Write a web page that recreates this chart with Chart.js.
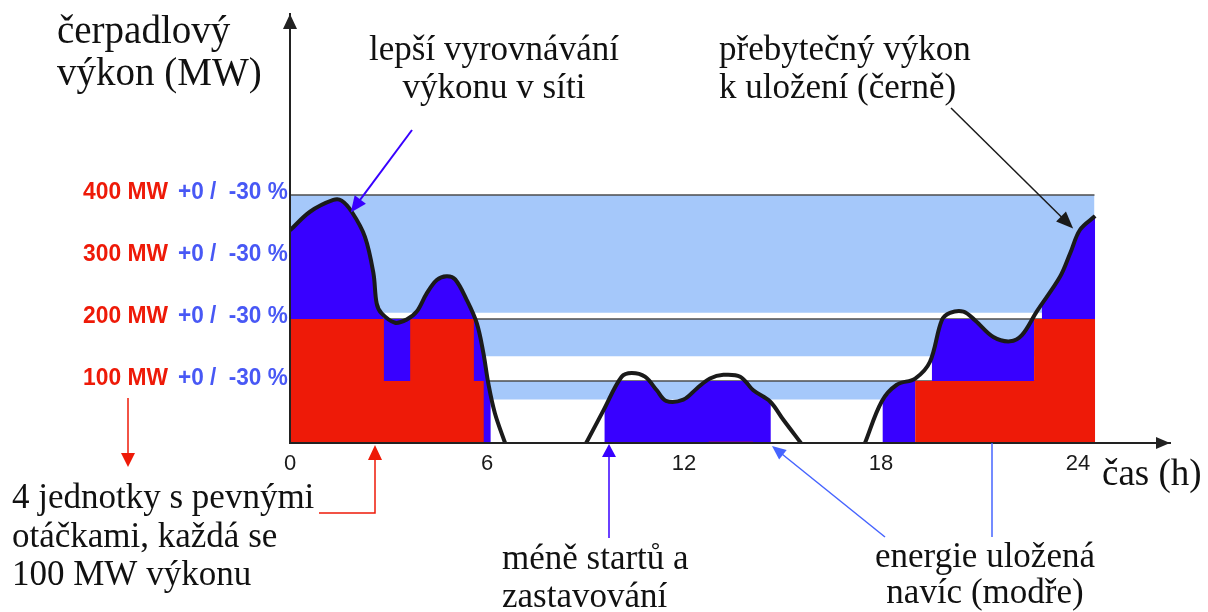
<!DOCTYPE html>
<html lang="cs">
<head>
  <meta charset="UTF-8" />
  <title>Čerpadlový výkon během dne</title>
  <script src="https://cdn.jsdelivr.net/npm/chart.js"></script>
  <style>
    html, body { margin: 0; padding: 0; background: #fff; }
    #wrap { width: 1208px; height: 612px; }
  </style>
</head>
<body>

  <div id="wrap">
    <canvas id="pumpChart" width="1208" height="612"></canvas>
  </div>

  <script>
    // čerpadlový výkon přes den (h, MW); null = čerpání stojí
    const curveHours = [0, 0.61, 1.32, 1.57, 1.88, 2.28, 2.54, 2.64, 2.79, 3.2, 3.55, 3.86, 4.16, 4.47, 4.77, 5.03, 5.38, 5.69, 5.89, 6.04, 6.24, 6.55,
      7.8,
      9.02, 9.55, 10.1, 10.41, 10.81, 11.17, 11.45, 11.98, 12.39, 12.79, 13.2, 13.71, 14.11, 14.62, 15.03, 15.56,
      16.5,
      17.51, 18.02, 18.48, 19.04, 19.49, 19.85, 20.1, 20.51, 20.86, 21.42, 21.93, 22.29, 22.74, 23.45, 23.76, 24.06, 24.52];
    const curveMW = [343, 373, 392, 391, 373, 333, 274, 225, 209, 194, 199, 212, 241, 263, 269, 264, 231, 193, 145, 96, 48, 0,
      null,
      0, 53, 107, 113, 107, 85, 68, 70, 88, 104, 110, 107, 85, 67, 37, 0,
      null,
      0, 67, 94, 104, 131, 198, 210, 212, 198, 171, 164, 174, 212, 268, 306, 344, 366];

    // energie uložená navíc (modře)
    const blueHours = [0, 0.61, 1.32, 1.57, 1.88, 2.28, 2.54, 2.64, 2.79, 2.86, 3.66, 3.86, 4.16, 4.47, 4.77, 5.03, 5.38, 5.69, 5.89, 6.04, 6.11, 6.11,
      9.58, 9.58, 9.95, 10.95, 11.17, 11.45, 11.98, 12.39, 12.65, 13.95, 14.11, 14.64, 14.64,
      18.05, 18.05, 18.48, 19.04, 19.04,
      19.55, 19.55, 19.85, 19.95, 20.8, 20.86, 21.42, 21.93, 22.29, 22.66, 22.66,
      22.9, 22.9, 23.45, 23.76, 24.06, 24.52, 24.52];
    const blueMW = [343, 373, 392, 391, 373, 333, 274, 225, 209, 200, 200, 212, 241, 263, 269, 264, 231, 193, 145, 96, 85, 0,
      0, 56, 100, 100, 85, 68, 70, 88, 100, 100, 85, 66, 0,
      0, 67, 94, 104, 0,
      0, 140, 198, 200, 200, 198, 171, 164, 174, 200, 0,
      0, 225, 268, 306, 344, 366, 0];

    // jednotky s pevnými otáčkami po 100 MW (červeně)
    const redHours = [0, 2.86, 2.86, 3.66, 3.66, 5.6, 5.6, 5.9, 5.9, 12.75, 12.75, 14.1, 14.1, 19.04, 19.04, 22.66, 22.66, 24.52, 24.52];
    const redMW = [200, 200, 100, 100, 200, 200, 100, 100, 0, 0, 2, 2, 0, 0, 100, 100, 200, 200, 0];

    // pásma výkonu +0 / -30 %
    const levels = [400, 300, 200, 100];
    const levelLabels = ['400 MW', '300 MW', '200 MW', '100 MW'];
    const levelTolerance = '+0 /  -30 %';
    const bandTop = [400, 300, 200, 100];
    const bandBottom = [280, 210, 140, 70];
    const bandEnd = 24.5;

    const hourTicks = [0, 6, 12, 18, 24];

    const LIGHT = 'rgb(165, 200, 250)';
    const BLUE = 'rgb(56, 0, 255)';
    const RED = 'rgb(238, 26, 8)';
    const SERIF = '"Liberation Serif", "DejaVu Serif", serif';
    const SANS = '"Liberation Sans", Arial, sans-serif';

    const pts = (xs, ys) => xs.map((x, i) => ({ x, y: ys[i] }));

    const bandSets = bandTop.map((top, i) => ({
      data: [{ x: 0, y: top }, { x: bandEnd, y: top }],
      fill: { value: bandBottom[i] },
      backgroundColor: LIGHT,
      borderColor: '#4d4d4d',
      borderWidth: 1.5,
      pointRadius: 0,
      order: 3 + i
    }));

    function arrowHead(ctx, x1, y1, x2, y2, len, half, color) {
      const a = Math.atan2(y2 - y1, x2 - x1);
      const bx = x2 - len * Math.cos(a), by = y2 - len * Math.sin(a);
      ctx.fillStyle = color;
      ctx.beginPath();
      ctx.moveTo(x2, y2);
      ctx.lineTo(bx + half * Math.sin(a), by - half * Math.cos(a));
      ctx.lineTo(bx - half * Math.sin(a), by + half * Math.cos(a));
      ctx.closePath();
      ctx.fill();
    }

    // lomená čára, na konci šipka (len = 0 bez šipky)
    function arrow(ctx, path, color, width, len, half) {
      const n = path.length;
      const [x1, y1] = path[n - 2], [x2, y2] = path[n - 1];
      const a = Math.atan2(y2 - y1, x2 - x1);
      ctx.save();
      ctx.strokeStyle = color;
      ctx.lineWidth = width;
      ctx.beginPath();
      ctx.moveTo(path[0][0], path[0][1]);
      for (let i = 1; i < n - 1; i++) ctx.lineTo(path[i][0], path[i][1]);
      ctx.lineTo(x2 - len * 0.8 * Math.cos(a), y2 - len * 0.8 * Math.sin(a));
      ctx.stroke();
      if (len) arrowHead(ctx, x1, y1, x2, y2, len, half, color);
      ctx.restore();
    }

    function lines(ctx, texts, x, y0, step, font, align) {
      ctx.font = font;
      ctx.textAlign = align;
      ctx.textBaseline = 'alphabetic';
      texts.forEach((t, i) => ctx.fillText(t, x, y0 + i * step));
    }

    // úzký tučný text (x = levý/pravý okraj podle zarovnání)
    function narrowText(ctx, text, x, y, align, sx) {
      ctx.save();
      ctx.translate(x, y);
      ctx.scale(sx, 1);
      ctx.textAlign = align;
      ctx.fillText(text, 0, 0);
      ctx.restore();
    }

    const annotations = {
      id: 'annotations',
      afterDraw(chart) {
        const { ctx, chartArea, scales: { x, y } } = chart;
        const x0 = chartArea.left, yb = chartArea.bottom;
        ctx.save();

        // šipky os
        arrowHead(ctx, x0, yb, x0, chartArea.top, 15, 7, '#222');
        arrowHead(ctx, x0, yb, chartArea.right, yb, 14, 6, '#222');

        ctx.fillStyle = '#111';
        lines(ctx, ['čerpadlový', 'výkon (MW)'], 57, 43, 42, '39px ' + SERIF, 'left');
        lines(ctx, ['čas (h)'], 1102, 485, 0, '37px ' + SERIF, 'left');
        lines(ctx, ['lepší vyrovnávání', 'výkonu v síti'], 494, 60, 38, '35px ' + SERIF, 'center');
        lines(ctx, ['přebytečný výkon', 'k uložení (černě)'], 719, 60, 38, '35px ' + SERIF, 'left');
        lines(ctx, ['4 jednotky s pevnými', 'otáčkami, každá se', '100 MW výkonu'], 12, 508, 38.5, '35px ' + SERIF, 'left');
        lines(ctx, ['méně startů a', 'zastavování'], 502, 569, 38, '35px ' + SERIF, 'left');
        lines(ctx, ['energie uložená', 'navíc (modře)'], 985, 567, 36, '35px ' + SERIF, 'center');

        // popisky úrovní výkonu
        ctx.font = 'bold 24px ' + SANS;
        ctx.textBaseline = 'middle';
        levels.forEach((v, i) => {
          const py = y.getPixelForValue(v) - 3;
          ctx.fillStyle = RED;
          narrowText(ctx, levelLabels[i], 168, py, 'right', 0.95);
          ctx.fillStyle = 'rgb(72, 88, 245)';
          narrowText(ctx, levelTolerance, 178, py, 'left', 0.94);
        });

        // odkazy
        arrow(ctx, [[412, 130], [x.getPixelForValue(1.85), y.getPixelForValue(372)]], BLUE, 2, 16, 7);
        arrow(ctx, [[951, 108], [x.getPixelForValue(23.85), y.getPixelForValue(346)]], '#1a1a1a', 1.5, 17, 7);
        arrow(ctx, [[128, 398], [128, 467]], RED, 1.5, 14, 7);
        arrow(ctx, [[319, 513], [375, 513], [375, yb + 2]], RED, 1.5, 15, 7);
        arrow(ctx, [[609, 538], [609, yb + 1]], BLUE, 1.5, 13, 7);
        arrow(ctx, [[885, 537], [772, yb + 3]], 'rgb(70, 100, 255)', 1.5, 14, 6);
        arrow(ctx, [[992, yb], [992, 537]], 'rgb(70, 100, 255)', 1.5, 0, 0);

        ctx.restore();
      }
    };

    new Chart(document.getElementById('pumpChart'), {
      type: 'line',
      data: {
        datasets: [
          {
            data: pts(curveHours, curveMW),
            borderColor: '#1a1a1a',
            borderWidth: 4,
            tension: 0.35,
            spanGaps: false,
            fill: false,
            pointRadius: 0,
            order: 0
          },
          {
            data: pts(redHours, redMW),
            borderWidth: 0,
            backgroundColor: RED,
            fill: 'origin',
            pointRadius: 0,
            order: 1
          },
          {
            data: pts(blueHours, blueMW),
            borderWidth: 0,
            backgroundColor: BLUE,
            fill: 'origin',
            pointRadius: 0,
            order: 2
          },
          ...bandSets
        ]
      },
      options: {
        responsive: false,
        animation: false,
        layout: { padding: { left: 290, top: 14, right: 38, bottom: 129 } },
        plugins: {
          legend: { display: false },
          tooltip: { enabled: false }
        },
        scales: {
          x: {
            type: 'linear',
            min: 0,
            max: 26.8,
            grid: { display: false, drawTicks: false },
            border: { display: true, color: '#222', width: 2, z: 1 },
            afterBuildTicks: (scale) => { scale.ticks = hourTicks.map(v => ({ value: v })); },
            afterFit: (scale) => { scale.height = 40; },
            ticks: {
              padding: 8,
              color: '#1a1a1a',
              maxRotation: 0,
              font: { family: SANS, size: 22 }
            }
          },
          y: {
            min: 0,
            max: 692,
            grid: { display: false, drawTicks: false },
            border: { display: true, color: '#222', width: 2, z: 1 },
            ticks: { display: false },
            afterFit: (scale) => { scale.width = 0; }
          }
        }
      },
      plugins: [annotations]
    });
  </script>

</body>
</html>
